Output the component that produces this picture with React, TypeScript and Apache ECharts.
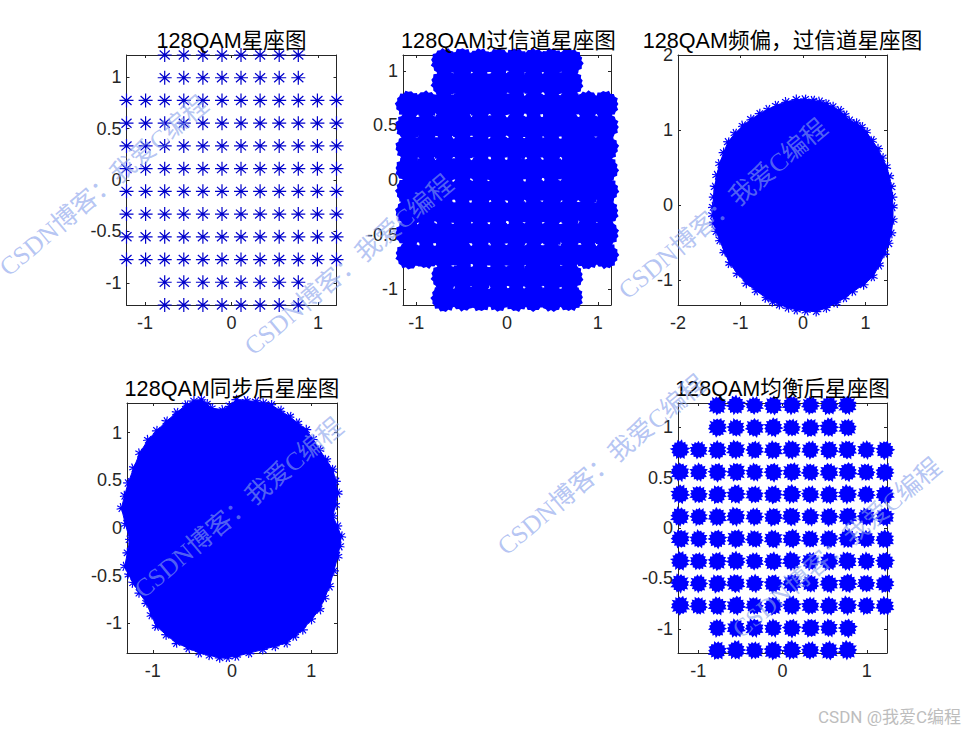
import React, { useEffect, useRef } from "react";
import * as echarts from "echarts";

const titles = ["128QAM星座图", "128QAM过信道星座图", "128QAM频偏，过信道星座图", "128QAM同步后星座图", "128QAM均衡后星座图"];

const idealLevels = [-1.215, -0.994, -0.773, -0.552, -0.331, -0.11, 0.11, 0.331, 0.552, 0.773, 0.994, 1.215];
const channelLevels = [-1.08, -0.886, -0.69, -0.49, -0.295, -0.098, 0.098, 0.295, 0.49, 0.69, 0.886, 1.08];
const equalizedLevels = [-1.215, -0.994, -0.773, -0.552, -0.331, -0.11, 0.11, 0.331, 0.552, 0.773, 0.994, 1.215];

// Gaps between channel clouds that are closed in the picture
const channelClosedGaps = [
  [-0.59, 0.59], [0.59, 0.59], [-0.39, 0.79], [-0.78, 0], [0, 0], [-0.98, 0], [-0.98, -0.2], [-0.78, -0.2],
  [-0.59, -0.59], [0.39, -0.79], [0.78, 0.39], [0.98, 0.2], [0.78, 0.2], [0.78, 0], [0.98, 0], [-0.2, 0.79],
];

// Edge of the cloud after the frequency offset
const offsetCloudEdge = [
  [-0.107, 1.407], [0.03, 1.41], [0.16, 1.394], [0.27, 1.38], [0.373, 1.35], [0.48, 1.31], [0.587, 1.261], [0.67, 1.2],
  [0.747, 1.128], [0.853, 1.093], [0.94, 1.04], [1.013, 0.973], [1.11, 0.86], [1.2, 0.752], [1.27, 0.63], [1.333, 0.509],
  [1.38, 0.38], [1.413, 0.243], [1.43, 0.11], [1.44, -0.022], [1.44, -0.2], [1.413, -0.376], [1.37, -0.51], [1.307, -0.642],
  [1.22, -0.8], [1.12, -0.951], [0.97, -1.06], [0.8, -1.15], [0.67, -1.23], [0.533, -1.305], [0.37, -1.37], [0.213, -1.416],
  [0.05, -1.41], [-0.107, -1.394], [-0.24, -1.365], [-0.373, -1.327], [-0.48, -1.285], [-0.587, -1.239], [-0.75, -1.14],
  [-0.907, -1.04], [-1.05, -0.91], [-1.173, -0.774], [-1.26, -0.62], [-1.333, -0.465], [-1.39, -0.35], [-1.429, -0.243],
  [-1.445, -0.13], [-1.44, -0.022], [-1.43, 0.11], [-1.413, 0.243], [-1.38, 0.4], [-1.333, 0.553], [-1.27, 0.7], [-1.2, 0.841],
  [-1.09, 0.955], [-0.96, 1.062], [-0.83, 1.145], [-0.693, 1.217], [-0.56, 1.275], [-0.427, 1.327], [-0.27, 1.375],
];

// Edge of the cloud after synchronisation
const syncCloudEdge = [
  [-0.387, 1.344], [-0.32, 1.3], [-0.26, 1.257], [-0.113, 1.239], [-0.03, 1.28], [0.055, 1.344], [0.18, 1.335], [0.307, 1.326],
  [0.4, 1.31], [0.496, 1.291], [0.61, 1.23], [0.727, 1.169], [0.83, 1.1], [0.937, 1.03], [1.02, 0.93], [1.105, 0.82],
  [1.19, 0.715], [1.273, 0.611], [1.31, 0.49], [1.336, 0.366], [1.305, 0.24], [1.273, 0.122], [1.33, 0.02], [1.378, -0.087],
  [1.36, -0.19], [1.336, -0.297], [1.285, -0.45], [1.231, -0.611], [1.17, -0.73], [1.105, -0.855], [1.0, -0.96], [0.895, -1.065],
  [0.79, -1.135], [0.685, -1.204], [0.54, -1.24], [0.391, -1.274], [0.22, -1.31], [0.055, -1.344], [-0.05, -1.355], [-0.155, -1.361],
  [-0.28, -1.335], [-0.408, -1.309], [-0.55, -1.26], [-0.702, -1.204], [-0.83, -1.12], [-0.954, -1.03], [-1.02, -0.91], [-1.08, -0.785],
  [-1.17, -0.68], [-1.248, -0.576], [-1.3, -0.49], [-1.353, -0.401], [-1.32, -0.26], [-1.29, -0.122], [-1.345, 0.04], [-1.395, 0.209],
  [-1.355, 0.34], [-1.311, 0.471], [-1.24, 0.63], [-1.164, 0.785], [-1.059, 0.925], [-0.95, 1.02], [-0.828, 1.117], [-0.7, 1.21],
  [-0.576, 1.291], [-0.48, 1.33],
];

const xTicks = [[-1, 0, 1], [-1, 0, 1], [-2, -1, 0, 1], [-1, 0, 1], [-1, 0, 1]];
const yTicks = [[-1, -0.5, 0, 0.5, 1], [-1, -0.5, 0, 0.5, 1], [-1, 0, 1, 2], [-1, -0.5, 0, 0.5, 1], [-1, -0.5, 0, 0.5, 1]];
const xRanges = [[-1.215, 1.215], [-1.145, 1.145], [-2, 1.344], [-1.325, 1.325], [-1.24, 1.24]];
const yRanges = [[-1.215, 1.215], [-1.145, 1.145], [-1.33, 2], [-1.31, 1.31], [-1.24, 1.24]];

const boxes = [
  { left: 126.5, top: 55, width: 210, height: 250 },
  { left: 403, top: 55, width: 208, height: 250 },
  { left: 678, top: 55, width: 209, height: 250 },
  { left: 127, top: 403, width: 210, height: 250 },
  { left: 678, top: 403, width: 209, height: 250 },
];

const watermarks = [
  { x: 104, y: 186 }, { x: 349, y: 265 }, { x: 723, y: 209 },
  { x: 239, y: 508 }, { x: 602, y: 465 }, { x: 837, y: 548 },
];

const BLUE = "#0000ff";
const INK = "#262626";
const ASTERISK = "path://M50 0L50 100M0 50L100 50M14 18L86 82M86 18L14 82";

const spikeSets = [
  [36, 47, 34, 44, 37, 50, 35, 43, 38, 48, 34, 45, 36, 50, 37, 44, 35, 47, 38, 43, 34, 49, 36, 45, 37, 50, 35, 44, 38, 47],
  [37, 44, 35, 50, 34, 46, 38, 43, 36, 49, 37, 45, 34, 50, 36, 47, 38, 44, 35, 50, 34, 46, 37, 43, 36, 48, 38, 50, 35, 45],
  [35, 50, 37, 44, 34, 47, 38, 43, 36, 50, 35, 46, 37, 45, 34, 49, 38, 44, 36, 50, 35, 43, 37, 47, 34, 50, 38, 45, 36, 48],
];
const denseSpikeSets = [
  [43, 50, 42, 47, 44, 50, 42, 48, 45, 49, 42, 50, 44, 47, 43, 50, 42, 48, 45, 50, 43, 47, 44, 49, 42, 50, 45, 48, 43, 50],
  [42, 48, 44, 50, 43, 47, 42, 50, 45, 49, 43, 50, 42, 47, 44, 50, 45, 48, 42, 50, 44, 47, 43, 49, 42, 50, 45, 48, 44, 50],
];
const spins = [0, 37, 71, 14, 53, 88, 26, 62, 9, 44, 79, 31, 67];

function spikyPath(radii: number[]) {
  const d = radii.map((r, i) => {
    const a = (i / radii.length) * Math.PI * 2;
    return `${i ? "L" : "M"}${(50 + r * Math.cos(a)).toFixed(1)} ${(50 + r * Math.sin(a)).toFixed(1)}`;
  });
  return "path://" + d.join("") + "Z";
}
const BLOBS = spikeSets.map(spikyPath);
const DENSE_BLOBS = denseSpikeSets.map(spikyPath);

function qam(levels: number[]) {
  const pts: number[][] = [];
  levels.forEach((y, r) =>
    levels.forEach((x, c) => {
      const outerRow = r < 2 || r > 9;
      const outerCol = c < 2 || c > 9;
      if (!(outerRow && outerCol)) pts.push([x, y]);
    })
  );
  return pts;
}

function blobData(pts: number[][], shapes: string[] = BLOBS) {
  return pts.map((p, i) => ({
    value: p,
    symbol: shapes[i % shapes.length],
    symbolRotate: spins[i % spins.length],
  }));
}

function starData(pts: number[][]) {
  return pts.map((p, i) => ({ value: p, symbolRotate: spins[i % spins.length] }));
}

function buildOption() {
  const grid = boxes.map((b) => ({ ...b, containLabel: false, show: false }));
  const xAxis: any[] = [];
  const yAxis: any[] = [];
  boxes.forEach((_, i) => {
    const common = {
      gridIndex: i,
      type: "value",
      splitLine: { show: false },
      axisLine: { show: true, onZero: false, lineStyle: { color: INK, width: 1 } },
    };
    const tick = (vals: number[]) => ({ show: true, inside: true, length: 3, customValues: vals, lineStyle: { color: INK, width: 1 } });
    const label = (vals: number[], margin: number, padding: number[]) => ({
      show: true,
      customValues: vals,
      margin,
      padding,
      color: INK,
      fontSize: 18,
      fontFamily: "Liberation Sans, Arial, sans-serif",
    });
    xAxis.push({ ...common, position: "bottom", min: xRanges[i][0], max: xRanges[i][1], axisTick: tick(xTicks[i]), axisLabel: label(xTicks[i], 9, [0, 0, 0, 0]) });
    xAxis.push({ ...common, position: "top", min: xRanges[i][0], max: xRanges[i][1], axisTick: tick(xTicks[i]), axisLabel: { show: false } });
    yAxis.push({ ...common, position: "left", min: yRanges[i][0], max: yRanges[i][1], axisTick: tick(yTicks[i]), axisLabel: label(yTicks[i], 5, [4, 0, 0, 0]) });
    yAxis.push({ ...common, position: "right", min: yRanges[i][0], max: yRanges[i][1], axisTick: tick(yTicks[i]), axisLabel: { show: false } });
  });

  const onGrid = (i: number) => ({ xAxisIndex: i * 2, yAxisIndex: i * 2, clip: false, silent: true, animation: false });
  const cloud = (i: number, edge: number[][]) => [
    {
      ...onGrid(i),
      type: "custom",
      data: [[0, 0]],
      renderItem: (_: any, api: any) => ({
        type: "polygon",
        shape: { points: edge.map((p) => api.coord(p)) },
        style: { fill: BLUE, stroke: BLUE, lineWidth: 1 },
      }),
    },
    {
      ...onGrid(i),
      type: "scatter",
      data: starData(edge),
      symbol: ASTERISK,
      symbolSize: 10,
      itemStyle: { color: "transparent", borderColor: BLUE, borderWidth: 1.2, opacity: 1 },
    },
  ];

  const series: any[] = [
    {
      ...onGrid(0),
      type: "scatter",
      data: qam(idealLevels),
      symbol: ASTERISK,
      symbolSize: 14,
      itemStyle: { color: "transparent", borderColor: "#0000cc", borderWidth: 1.2, opacity: 1 },
    },
    {
      ...onGrid(1),
      type: "scatter",
      data: blobData(qam(channelLevels), DENSE_BLOBS),
      symbolSize: 28,
      itemStyle: { color: BLUE, opacity: 1 },
    },
    {
      ...onGrid(1),
      type: "scatter",
      data: channelClosedGaps,
      symbol: "circle",
      symbolSize: 10,
      itemStyle: { color: BLUE, opacity: 1 },
    },
    ...cloud(2, offsetCloudEdge),
    ...cloud(3, syncCloudEdge),
    {
      ...onGrid(4),
      type: "scatter",
      data: blobData(qam(equalizedLevels)),
      symbolSize: 19,
      itemStyle: { color: BLUE, opacity: 1 },
    },
  ];

  const title = titles.map((text, i) => ({
    text,
    left: boxes[i].left + boxes[i].width / 2 + (i === 1 ? 1.5 : 0),
    top: boxes[i].top - 25,
    textAlign: "center",
    padding: 0,
    textStyle: {
      color: "#000000",
      fontWeight: "normal",
      fontSize: 21.6,
      fontFamily: "Liberation Sans, Arial, Noto Sans CJK SC, sans-serif",
    },
  }));

  const graphic = [
    ...watermarks.map((w) => ({
      type: "text",
      x: w.x,
      y: w.y,
      rotation: (40 * Math.PI) / 180,
      z: 100,
      silent: true,
      style: {
        text: "CSDN博客：我爱C编程",
        fill: "rgba(135,160,235,0.62)",
        fontSize: 25.5,
        fontFamily: "Liberation Serif, Noto Sans CJK SC, serif",
        textAlign: "center",
        textVerticalAlign: "middle",
      },
    })),
    {
      type: "text",
      x: 818,
      y: 717,
      z: 100,
      silent: true,
      style: {
        text: "CSDN @我爱C编程",
        fill: "#bdbdbd",
        fontSize: 17,
        fontFamily: "Roboto, Noto Sans CJK SC, sans-serif",
        textAlign: "left",
        textVerticalAlign: "middle",
      },
    },
  ];

  return { animation: false, backgroundColor: "#ffffff", title, grid, xAxis, yAxis, series, graphic };
}

export default function App() {
  const ref = useRef<HTMLDivElement>(null);
  useEffect(() => {
    const chart = echarts.init(ref.current!, undefined, { renderer: "svg" });
    chart.setOption(buildOption() as any);
    return () => chart.dispose();
  }, []);
  return <div ref={ref} style={{ position: "fixed", left: 0, top: 0, width: 980, height: 735 }} />;
}
